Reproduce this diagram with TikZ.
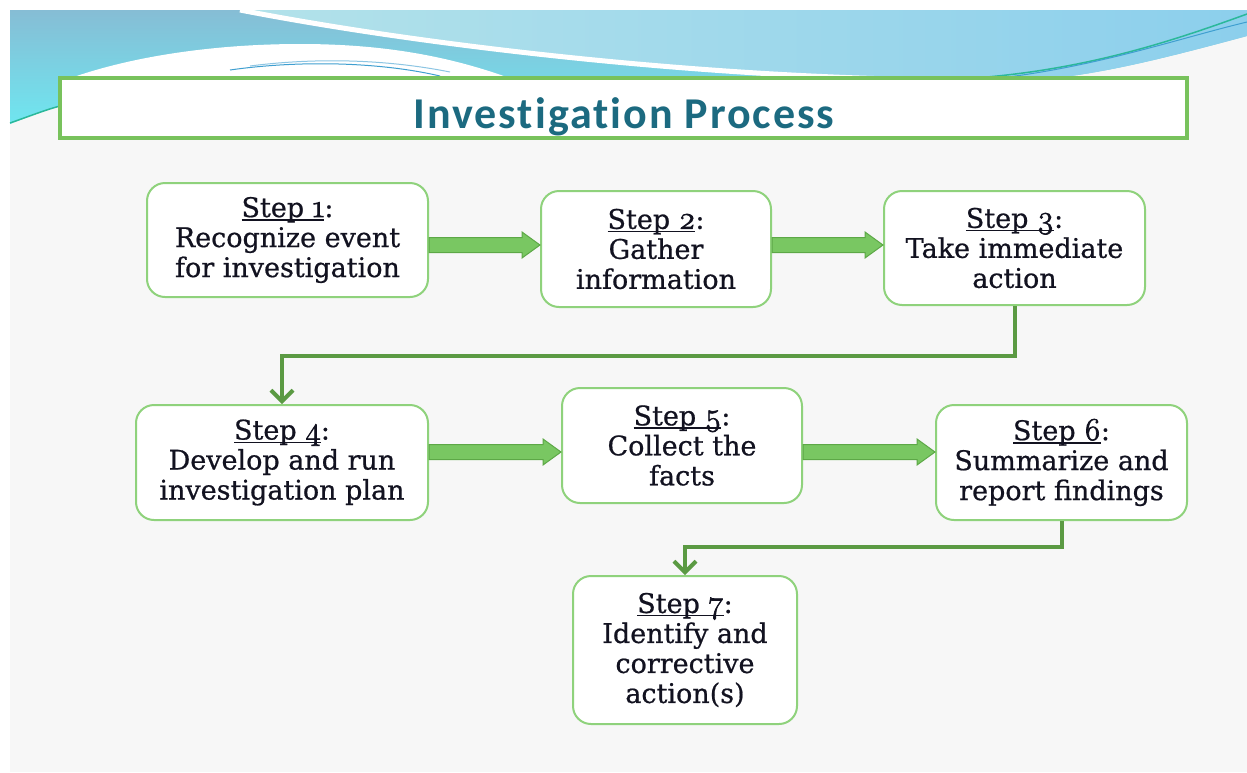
\documentclass[tikz,border=0pt]{standalone}
\usepackage{fontspec}
\setmainfont{DejaVu Serif}
\newfontfamily\boxfont{DejaVu Serif}[FakeBold=0.7]
\newfontfamily\titlefont{Carlito}[LetterSpace=4.5,Ligatures=NoCommon]
\newfontfamily\numfont{Latin Modern Roman}[Numbers=OldStyle,FakeBold=2.2]
\usetikzlibrary{calc,arrows.meta}
\definecolor{slidebg}{HTML}{F7F7F7}
\definecolor{boxgreen}{HTML}{8FD27C}
\definecolor{titlegreen}{HTML}{78C25C}
\definecolor{arrowfill}{HTML}{79C762}
\definecolor{arrowdraw}{HTML}{5DA847}
\definecolor{elbowgreen}{HTML}{5B9A43}
\definecolor{titletext}{HTML}{1C6A80}
\definecolor{txt}{HTML}{121220}
\definecolor{bannertop}{HTML}{86BDD5}
\definecolor{bannercyan}{HTML}{6FE6F0}
\definecolor{lightA}{HTML}{B3E2EA}
\definecolor{lightB}{HTML}{8CCFEC}
\definecolor{streakblue}{HTML}{3F9FD0}
\definecolor{tealline}{HTML}{2BB89A}
\newcommand\stepul[1]{\setbox0\hbox{Step~{\numfont\fontsize{32}{30}\selectfont #1}}\rlap{\rule[-3.5pt]{\wd0}{1.5pt}}\box0:}
\newcommand\blockarrow[3]{%
  \draw[barrow] let \p1=(#1.east), \p2=(#2.west), \p3=(#3) in
   (\x1,\y3+7.5pt) -- (\x2-18pt,\y3+7.5pt) -- (\x2-18pt,\y3+13pt) -- (\x2,\y3)
   -- (\x2-18pt,\y3-13pt) -- (\x2-18pt,\y3-7.5pt) -- (\x1,\y3-7.5pt) -- cycle;}
\begin{document}
\begin{tikzpicture}[x=1pt,y=-1pt,
  stepbox/.style={draw=boxgreen, line width=2pt, fill=white, rounded corners=18pt,
    align=center, text=txt, font=\boxfont\fontsize{27}{30}\selectfont, inner sep=0pt},
  barrow/.style={fill=arrowfill, draw=arrowdraw, line width=1pt},
  elbow/.style={draw=elbowgreen, line width=4pt, -{Straight Barb[length=11pt,width=22pt]}}]
\useasboundingbox (0,0) rectangle (1247,772);
\fill[slidebg] (10,10) rectangle (1247,772);
% banner
\shade[top color=bannertop, bottom color=bannercyan]
  (10,10) -- (1247,10) -- (1247,36) .. controls (1150,62) and (1080,80) .. (1000,82)
  -- (60,82) -- (60,106) .. controls (40,112) and (25,118) .. (10,124) -- cycle;
\shade[left color=lightA, right color=lightB]
  (240,10) .. controls (420,45) and (700,78) .. (950,80) -- (1000,82)
  .. controls (1080,80) and (1150,62) .. (1247,36) -- (1247,10) -- cycle;
\draw[white, line width=5pt] (240,10) .. controls (420,45) and (700,78) .. (950,80);
\fill[white] (60,82) .. controls (130,55) and (220,44) .. (300,44)
  .. controls (380,44) and (450,55) .. (520,82) -- cycle;
\draw[streakblue, line width=1pt] (230,70) .. controls (300,60) and (380,62) .. (440,76);
\draw[streakblue!60, line width=1pt] (250,66) .. controls (320,57) and (390,60) .. (450,72);
\draw[tealline, line width=1.5pt] (10,123) .. controls (30,116) and (45,110) .. (60,106);
\draw[tealline, line width=1.5pt] (960,79) .. controls (1080,72) and (1170,42) .. (1247,14);
\draw[streakblue, line width=1pt] (1000,78) .. controls (1100,66) and (1180,38) .. (1247,22);
% title
\node[draw=titlegreen, line width=3.5pt, fill=white, minimum width=1127, minimum height=60, inner sep=0pt] (tb) at (623.5,108) {};
\node[anchor=base, text=titletext, font=\titlefont\bfseries\fontsize{44}{44}\selectfont, inner sep=0pt] (tt) at (624,128) {Investigation Process};
% steps
\node[stepbox, minimum width=281, minimum height=114] (s1) at (287.5,240) {\stepul{1}\\Recognize event\\for investigation};
\node[stepbox, minimum width=230, minimum height=116] (s2) at (656,249) {\stepul{2}\\Gather\\information};
\node[stepbox, minimum width=261, minimum height=114] (s3) at (1014.5,248) {\stepul{3}\\Take immediate\\action};
\node[stepbox, minimum width=292, minimum height=115] (s4) at (282,462.5) {\stepul{4}\\Develop and run\\investigation plan};
\node[stepbox, minimum width=240, minimum height=115] (s5) at (682,445.5) {\stepul{5}\\Collect the\\facts};
\node[stepbox, minimum width=251, minimum height=115] (s6) at (1061.5,462.5) {\stepul{6}\\Summarize and\\report findings};
\node[stepbox, minimum width=224, minimum height=148] (s7) at (685,650) {\stepul{7}\\Identify and\\corrective\\action(s)};
% block arrows
\coordinate (a1) at (0,245);
\coordinate (a2) at (0,245);
\coordinate (a3) at (0,452);
\coordinate (a4) at (0,452);
\blockarrow{s1}{s2}{a1}
\blockarrow{s2}{s3}{a2}
\blockarrow{s4}{s5}{a3}
\blockarrow{s5}{s6}{a4}
% elbow connectors
\draw[elbow] (s3.south) -- ++(0,50) -| (s4.north);
\draw[elbow] (s6.south) -- ++(0,26) -| (s7.north);
\end{tikzpicture}
\end{document}
